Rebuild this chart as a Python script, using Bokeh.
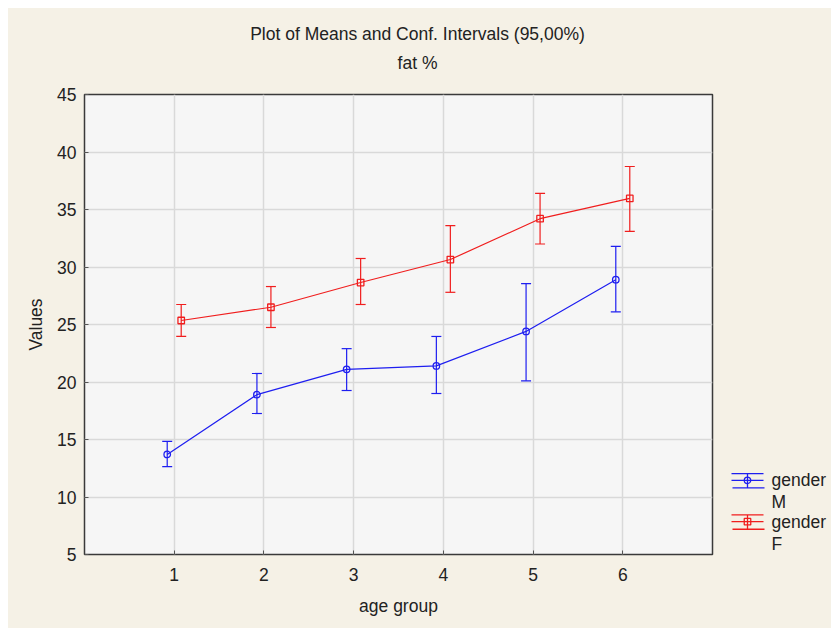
from bokeh.plotting import figure
from bokeh.layouts import row, column
from bokeh.models import Range1d, FixedTicker, Whisker, ColumnDataSource, Spacer
from bokeh.core.properties import value
from bokeh.embed import file_html
from bokeh.resources import INLINE

# ---- data ----
age_groups = [1, 2, 3, 4, 5, 6]
m_mean = [13.7, 18.9, 21.1, 21.4, 24.4, 28.9]
m_low = [12.65, 17.26, 19.26, 19.0, 20.1, 26.1]
m_high = [14.83, 20.74, 22.9, 23.96, 28.56, 31.8]
f_mean = [25.35, 26.5, 28.65, 30.65, 34.2, 35.96]
f_low = [23.96, 24.74, 26.74, 27.8, 32.0, 33.1]
f_high = [26.74, 28.3, 30.74, 33.6, 36.4, 38.74]
y_ticks = [5, 10, 15, 20, 25, 30, 35, 40, 45]
series_names = ["M", "F"]
title_lines = ["Plot of Means and Conf. Intervals (95,00%)", "fat %"]

FONT = "Liberation Sans"
FS = "17.5px"
BEIGE = "#F5F1E6"
PLOT_BG = "#F6F6F6"
BLUE = "#1E1EF0"
RED = "#F01E1E"
TXT = "#222222"
offset = 0.078


def panel(w, h, xr, yr):
    f = figure(width=w, height=h, x_range=Range1d(*xr), y_range=Range1d(*yr),
               output_backend="svg", toolbar_location=None,
               min_border_left=0, min_border_right=0, min_border_top=0, min_border_bottom=0)
    f.axis.visible = False
    f.grid.visible = False
    f.outline_line_color = None
    f.background_fill_color = BEIGE
    f.border_fill_color = BEIGE
    return f


# ---- title strip (page coordinates) ----
tp = panel(823, 74, (8, 831), (82, 8))
tp.text(x=[417, 417], y=[33, 62], text=title_lines, text_font=value(FONT),
        text_font_size=FS, text_align="center", text_baseline="middle", text_color=TXT)

# ---- main plot ----
p = figure(width=712, height=546, x_range=Range1d(0, 7), y_range=Range1d(5, 45),
           output_backend="svg", toolbar_location=None,
           min_border_left=76, min_border_right=8, min_border_top=12, min_border_bottom=74)
p.background_fill_color = PLOT_BG
p.border_fill_color = BEIGE
p.outline_line_color = "#3A3A3A"
p.outline_line_width = 1.5

p.xaxis.ticker = FixedTicker(ticks=age_groups)
p.yaxis.ticker = FixedTicker(ticks=y_ticks)
for ax in (p.xaxis[0], p.yaxis[0]):
    ax.axis_line_color = None
    ax.major_tick_in = 4
    ax.major_tick_out = 0
    ax.major_tick_line_color = "#555555"
    ax.minor_tick_line_color = None
    ax.major_label_text_font = FONT
    ax.major_label_text_font_size = FS
    ax.major_label_text_color = TXT
    ax.axis_label_text_font = FONT
    ax.axis_label_text_font_size = FS
    ax.axis_label_text_font_style = "normal"
    ax.axis_label_text_color = TXT
p.xaxis.axis_label = "age group"
p.yaxis.axis_label = "Values"
p.xaxis.major_label_standoff = 13
p.xaxis.axis_label_standoff = 12
p.yaxis.major_label_standoff = 8
p.yaxis.axis_label_standoff = 8

p.grid.grid_line_color = "#D9D9D9"
p.grid.grid_line_width = 1.5

for mean, low, high, color, marker, sgn in (
        (m_mean, m_low, m_high, BLUE, "circle", -1),
        (f_mean, f_low, f_high, RED, "square", 1)):
    xs = [a + sgn * offset for a in age_groups]
    src = ColumnDataSource(dict(x=xs, y=mean, lo=low, hi=high))
    p.line("x", "y", source=src, line_color=color, line_width=1.2)
    w = Whisker(base="x", lower="lo", upper="hi", source=src, dimension="height",
                line_color=color, line_width=1.2)
    w.upper_head.size = 10
    w.lower_head.size = 10
    w.upper_head.line_color = color
    w.lower_head.line_color = color
    w.upper_head.line_width = 1.2
    w.lower_head.line_width = 1.2
    p.add_layout(w)
    p.scatter("x", "y", source=src, marker=marker, size=6.5, fill_color=None,
              line_color=color, line_width=1.3)

# ---- legend panel (page coordinates) ----
lg = panel(111, 546, (720, 831), (628, 82))
for name, color, marker, yc in ((series_names[0], BLUE, "circle", 540),
                                 (series_names[1], RED, "square", 589)):
    lg.segment(x0=[731, 731, 732], x1=[763, 763, 764], y0=[yc - 8, yc, yc + 9],
               y1=[yc - 8, yc, yc + 9], line_color=color, line_width=1.3)
    lg.segment(x0=[747], x1=[747], y0=[yc - 8], y1=[yc + 9], line_color=color, line_width=1.3)
    lg.scatter(x=[747], y=[yc], marker=marker, size=6.5, fill_color=None, line_color=color,
               line_width=1.3)
    lg.text(x=[771, 771], y=[yc, yc + 26], text=["gender", name], text_font=value(FONT),
            text_font_size=FS, text_baseline="middle", text_color=TXT)

inner = column(tp, row(p, lg, spacing=0), spacing=0, styles={"background-color": BEIGE})
layout = column(Spacer(height=8), row(Spacer(width=8), inner, spacing=0), spacing=0)
open("out.html", "w").write(file_html(layout, INLINE))
